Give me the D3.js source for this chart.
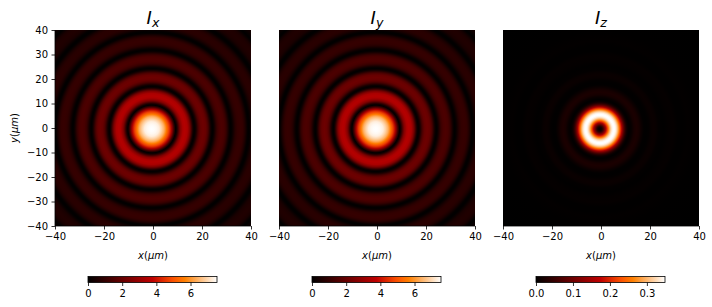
<!DOCTYPE html>
<html>
<head>
<meta charset="utf-8">
<script src="https://cdn.jsdelivr.net/npm/d3@7"></script>
<style>
  body { margin: 0; background: #fff; }
  svg { display: block; }
  text { font-family: "DejaVu Sans", sans-serif; fill: #000; }
  .tick text { font-size: 10px; }
  .tick line, .domain { stroke: #000; stroke-width: 0.8px; }
</style>
</head>
<body>
<svg id="chart" width="712" height="307"></svg>
<script>
// radial intensity profiles (radius in um)
const radiusXY = [0, 1, 2, 3, 4, 5, 6, 7, 8, 9, 9.7, 10.2, 10.7, 11.2, 11.7, 12.7, 13.5, 14.5, 15.3, 15.8, 16.3, 16.8, 17.3, 17.8, 18.3, 18.8, 19.3, 20, 21, 22, 22.7, 23.2, 23.7, 24.2, 24.7, 25.2, 25.7, 26.2, 26.7, 27.5, 28.5, 29.5, 30.2, 30.7, 31.2, 31.7, 32.2, 32.7, 33.2, 33.7, 34.2, 35, 36, 37, 37.6, 38.1, 38.6, 39, 39.5, 40, 40.5, 41, 41.5, 42.2, 43.2, 44.2, 45, 45.5, 46, 46.5, 47, 47.5, 48, 48.5, 49, 50, 51, 52, 52.8, 53.3, 53.8, 54.2, 54.6, 55.5, 57];
const valuesX = [7.55, 7.52, 7.45, 7.3, 6.9, 6.4, 5.6, 4.7, 3.4, 1.2, 0.03, 0.35, 1.1, 1.95, 2.65, 3.4, 3.55, 3.35, 2.65, 1.95, 1.1, 0.35, 0.03, 0.22, 0.66, 1.2, 1.63, 2.02, 2.15, 2.02, 1.63, 1.2, 0.66, 0.22, 0.02, 0.15, 0.47, 0.85, 1.15, 1.4, 1.5, 1.4, 1.15, 0.85, 0.47, 0.15, 0.02, 0.11, 0.34, 0.6, 0.8, 0.98, 1.04, 0.98, 0.8, 0.6, 0.34, 0.11, 0.02, 0.08, 0.26, 0.46, 0.62, 0.76, 0.8, 0.76, 0.62, 0.46, 0.26, 0.08, 0.02, 0.06, 0.2, 0.36, 0.5, 0.6, 0.64, 0.6, 0.5, 0.36, 0.2, 0.06, 0.02, 0.16, 0.4];
const valuesY = valuesX;
const radiusZ = [0, 0.5, 1, 1.5, 2, 2.5, 3, 3.5, 4, 4.5, 5, 5.5, 6, 6.5, 7, 7.5, 8, 8.5, 9, 9.5, 10, 10.5, 11, 11.5, 12, 13, 14, 15, 16, 17, 18, 19, 20, 21, 22, 23, 24, 26, 28, 30, 32, 34, 36, 38, 40, 57];
const valuesZ = [0, 0.006, 0.025, 0.06, 0.105, 0.155, 0.205, 0.25, 0.29, 0.32, 0.34, 0.349, 0.349, 0.34, 0.32, 0.29, 0.25, 0.205, 0.155, 0.105, 0.065, 0.035, 0.015, 0.005, 0.001, 0.008, 0.02, 0.025, 0.02, 0.01, 0.002, 0.001, 0.003, 0.007, 0.009, 0.007, 0.003, 0.001, 0.004, 0.005, 0.001, 0.001, 0.003, 0.002, 0.001, 0];

const panelTitles = ["x", "y", "z"];
const panelLeft = [55, 279, 503];
const xTicks = [-40, -20, 0, 20, 40];
const yTicks = [-40, -30, -20, -10, 0, 10, 20, 30, 40];
const barDomains = [[0, 7.55], [0, 7.55], [0, 0.349]];
const barTicks = [[0, 2, 4, 6], [0, 2, 4, 6], [0, 0.1, 0.2, 0.3]];
const barFormat = [d3.format("d"), d3.format("d"), d3.format(".1f")];
const profiles = [[radiusXY, valuesX], [radiusXY, valuesY], [radiusZ, valuesZ]];

const size = 196, plotTop = 30, barTop = 276.5, barH = 6, barW = 129, barOffset = 33;
const beamCenter = [-0.5, -0.4]; // the beam sits slightly off the axis origin

// matplotlib gist_heat
function gistHeat(t) {
  const c = v => Math.round(255 * Math.max(0, Math.min(1, v)));
  return `rgb(${c(1.5 * t)},${c(2 * t - 1)},${c(4 * t - 3)})`;
}

const svg = d3.select("#chart");
const defs = svg.append("defs");

panelTitles.forEach((name, i) => {
  const x = d3.scaleLinear().domain([-40, 40]).range([0, size]);
  const y = d3.scaleLinear().domain([-40, 40]).range([size, 0]);
  const g = svg.append("g").attr("transform", `translate(${panelLeft[i]},${plotTop})`);
  const [radius, values] = profiles[i];
  const level = d3.scaleLinear().domain(barDomains[i]).range([0, 1]).clamp(true);
  const rMax = d3.max(radius);
  const pxPerUnit = x(1) - x(0);

  const grad = defs.append("radialGradient")
      .attr("id", `beam-${name}`)
      .attr("gradientUnits", "userSpaceOnUse")
      .attr("cx", x(beamCenter[0]))
      .attr("cy", y(beamCenter[1]))
      .attr("r", rMax * pxPerUnit);
  grad.selectAll("stop")
    .data(radius)
    .join("stop")
      .attr("offset", d => d / rMax)
      .attr("stop-color", (d, k) => gistHeat(level(values[k])));

  g.append("rect")
      .attr("width", size)
      .attr("height", size)
      .attr("fill", `url(#beam-${name})`);

  const xAxis = g.append("g")
      .attr("transform", `translate(0,${size})`)
      .call(d3.axisBottom(x).tickValues(xTicks).tickSize(3.5).tickPadding(3.5).tickFormat(d => String(d).replace("-", "\u2212")));
  xAxis.select(".domain").attr("d", `M0,0H${size}`);

  const xLabel = g.append("text")
      .attr("x", size / 2)
      .attr("y", size + 33)
      .attr("text-anchor", "middle")
      .style("font-size", "10px");
  xLabel.append("tspan").style("font-style", "italic").text("x");
  xLabel.append("tspan").text("(");
  xLabel.append("tspan").style("font-style", "italic").text("\u03bcm");
  xLabel.append("tspan").text(")");

  if (i === 0) {
    const yAxis = g.append("g")
        .call(d3.axisLeft(y).tickValues(yTicks).tickSize(3.5).tickPadding(3.5).tickFormat(d => String(d).replace("-", "\u2212")));
    yAxis.select(".domain").attr("d", `M0,0V${size}`);

    const yLabel = g.append("text")
        .attr("transform", `translate(-37.5,${size / 2}) rotate(-90)`)
        .attr("text-anchor", "middle")
        .style("font-size", "10px");
    yLabel.append("tspan").style("font-style", "italic").text("y");
    yLabel.append("tspan").text("(");
    yLabel.append("tspan").style("font-style", "italic").text("\u03bcm");
    yLabel.append("tspan").text(")");
  }

  const title = g.append("text")
      .attr("x", size / 2)
      .attr("y", -6)
      .attr("text-anchor", "middle")
      .style("font-size", "18px")
      .style("font-style", "italic");
  title.append("tspan").text("I");
  title.append("tspan").attr("dy", 3).style("font-size", "12.6px").text(name);

  // colorbar
  const bar = svg.append("g").attr("transform", `translate(${panelLeft[i] + barOffset},${barTop})`);
  const cx = d3.scaleLinear().domain(barDomains[i]).range([0, barW]);
  const barGrad = defs.append("linearGradient").attr("id", `bar-${name}`);
  barGrad.selectAll("stop")
    .data(d3.range(0, 1.001, 0.05))
    .join("stop")
      .attr("offset", d => d)
      .attr("stop-color", d => gistHeat(d));
  bar.append("rect")
      .attr("width", barW)
      .attr("height", barH)
      .attr("fill", `url(#bar-${name})`)
      .attr("stroke", "#000")
      .attr("stroke-width", 0.8);
  const barAxis = bar.append("g")
      .attr("transform", `translate(0,${barH})`)
      .call(d3.axisBottom(cx).tickValues(barTicks[i]).tickSize(3.5).tickPadding(3.5).tickFormat(barFormat[i]));
  barAxis.select(".domain").remove();
});
</script>
</body>
</html>
